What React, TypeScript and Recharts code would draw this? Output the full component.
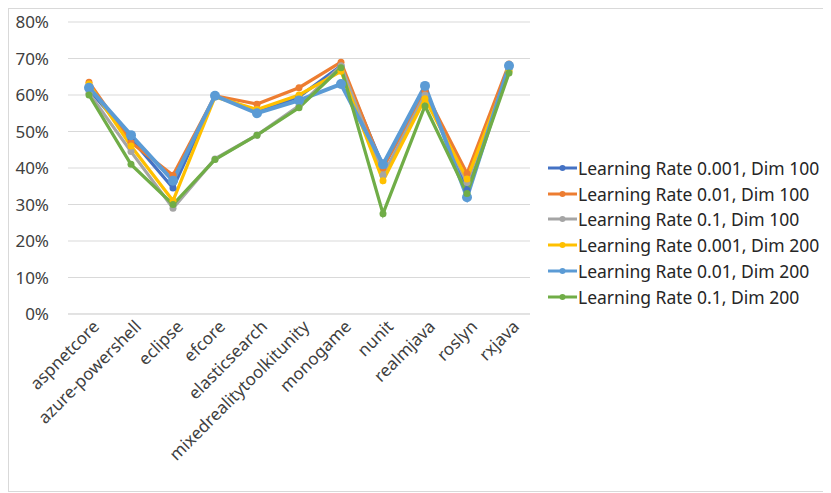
import { CartesianGrid, Legend, Line, LineChart, XAxis, YAxis } from "recharts";

const projects = ["aspnetcore", "azure-powershell", "eclipse", "efcore", "elasticsearch", "mixedrealitytoolkitunity", "monogame", "nunit", "realmjava", "roslyn", "rxjava"];

const lr001Dim100 = [0.615, 0.48, 0.345, 0.598, 0.555, 0.595, 0.68, 0.405, 0.61, 0.34, 0.675];
const lr01Dim100 = [0.635, 0.47, 0.38, 0.598, 0.575, 0.62, 0.69, 0.40, 0.61, 0.385, 0.685];
const lr1Dim100 = [0.605, 0.445, 0.29, 0.425, 0.49, 0.57, 0.68, 0.38, 0.60, 0.36, 0.67];
const lr001Dim200 = [0.63, 0.46, 0.31, 0.595, 0.56, 0.60, 0.665, 0.365, 0.59, 0.37, 0.665];
const lr01Dim200 = [0.62, 0.49, 0.365, 0.598, 0.55, 0.585, 0.63, 0.41, 0.625, 0.32, 0.68];
const lr1Dim200 = [0.60, 0.41, 0.30, 0.423, 0.49, 0.565, 0.675, 0.275, 0.57, 0.33, 0.66];

const yTicks = [0, 0.1, 0.2, 0.3, 0.4, 0.5, 0.6, 0.7, 0.8];

const series = [
    { key: "a", name: "Learning Rate 0.001, Dim 100", values: lr001Dim100, color: "#4472C4", width: 3.25, r: 3.5 },
    { key: "b", name: "Learning Rate 0.01, Dim 100", values: lr01Dim100, color: "#ED7D31", width: 3.25, r: 3.5 },
    { key: "c", name: "Learning Rate 0.1, Dim 100", values: lr1Dim100, color: "#A5A5A5", width: 3.25, r: 3.5 },
    { key: "d", name: "Learning Rate 0.001, Dim 200", values: lr001Dim200, color: "#FFC000", width: 3.25, r: 3.5 },
    { key: "e", name: "Learning Rate 0.01, Dim 200", values: lr01Dim200, color: "#5B9BD5", width: 4, r: 5 },
    { key: "f", name: "Learning Rate 0.1, Dim 200", values: lr1Dim200, color: "#70AD47", width: 3.25, r: 3.5 },
];

const data = projects.map((p, i) => {
    const row: Record<string, string | number> = { project: p };
    series.forEach(s => { row[s.key] = s.values[i]; });
    return row;
});

const font = "'Noto Sans', sans-serif";

const XTick = ({ x, y, payload }: any) =>
    <g transform={`translate(${x},${y})`}>
        <text x={4} y={0} dy={12} textAnchor="end" transform="rotate(-45)" fill="#404040" fontSize={17} fontFamily={font}>
            {payload.value}
        </text>
    </g>;

const LegendBox = () =>
    <div style={{ width: 292, paddingLeft: 18, boxSizing: "border-box", fontFamily: font, fontSize: 17.5, color: "#262626" }}>
        {series.map(s =>
            <div key={s.key} style={{ display: "flex", alignItems: "center", height: 25.8, whiteSpace: "nowrap" }}>
                <svg width={29} height={10} style={{ marginRight: 1, flexShrink: 0 }}>
                    <line x1={0} y1={5} x2={29} y2={5} stroke={s.color} strokeWidth={3} />
                    <circle cx={14.5} cy={5} r={3} fill={s.color} />
                </svg>
                <span>{s.name}</span>
            </div>
        )}
    </div>;

export default function App() {
    return (
        <div style={{ width: 822, height: 482, border: "1px solid #D9D9D9", background: "#fff" }}>
            <LineChart width={822} height={482} data={data} margin={{ top: 13, right: 9, left: 0, bottom: 0 }}>
                <CartesianGrid vertical={false} stroke="#D9D9D9" />
                <XAxis dataKey="project" interval={0} height={177} padding={{ left: 21, right: 21 }} tick={<XTick />} tickLine={false} axisLine={{ stroke: "#D9D9D9" }} />
                <YAxis domain={[0, 0.8]} ticks={yTicks} width={59} axisLine={false} tickLine={false} tickSize={0} tickMargin={19}
                    tickFormatter={(v: number) => `${Math.round(v * 100)}%`}
                    tick={{ fill: "#404040", fontSize: 17, fontFamily: font }} />
                <Legend layout="vertical" align="right" verticalAlign="top" content={<LegendBox />} wrapperStyle={{ top: 146 }} />
                {series.map(s =>
                    <Line key={s.key} type="linear" dataKey={s.key} name={s.name} stroke={s.color} strokeWidth={s.width}
                        dot={{ r: s.r, fill: s.color, stroke: s.color, strokeWidth: 0 }} activeDot={false} isAnimationActive={false} />
                )}
            </LineChart>
        </div>
    );
}
